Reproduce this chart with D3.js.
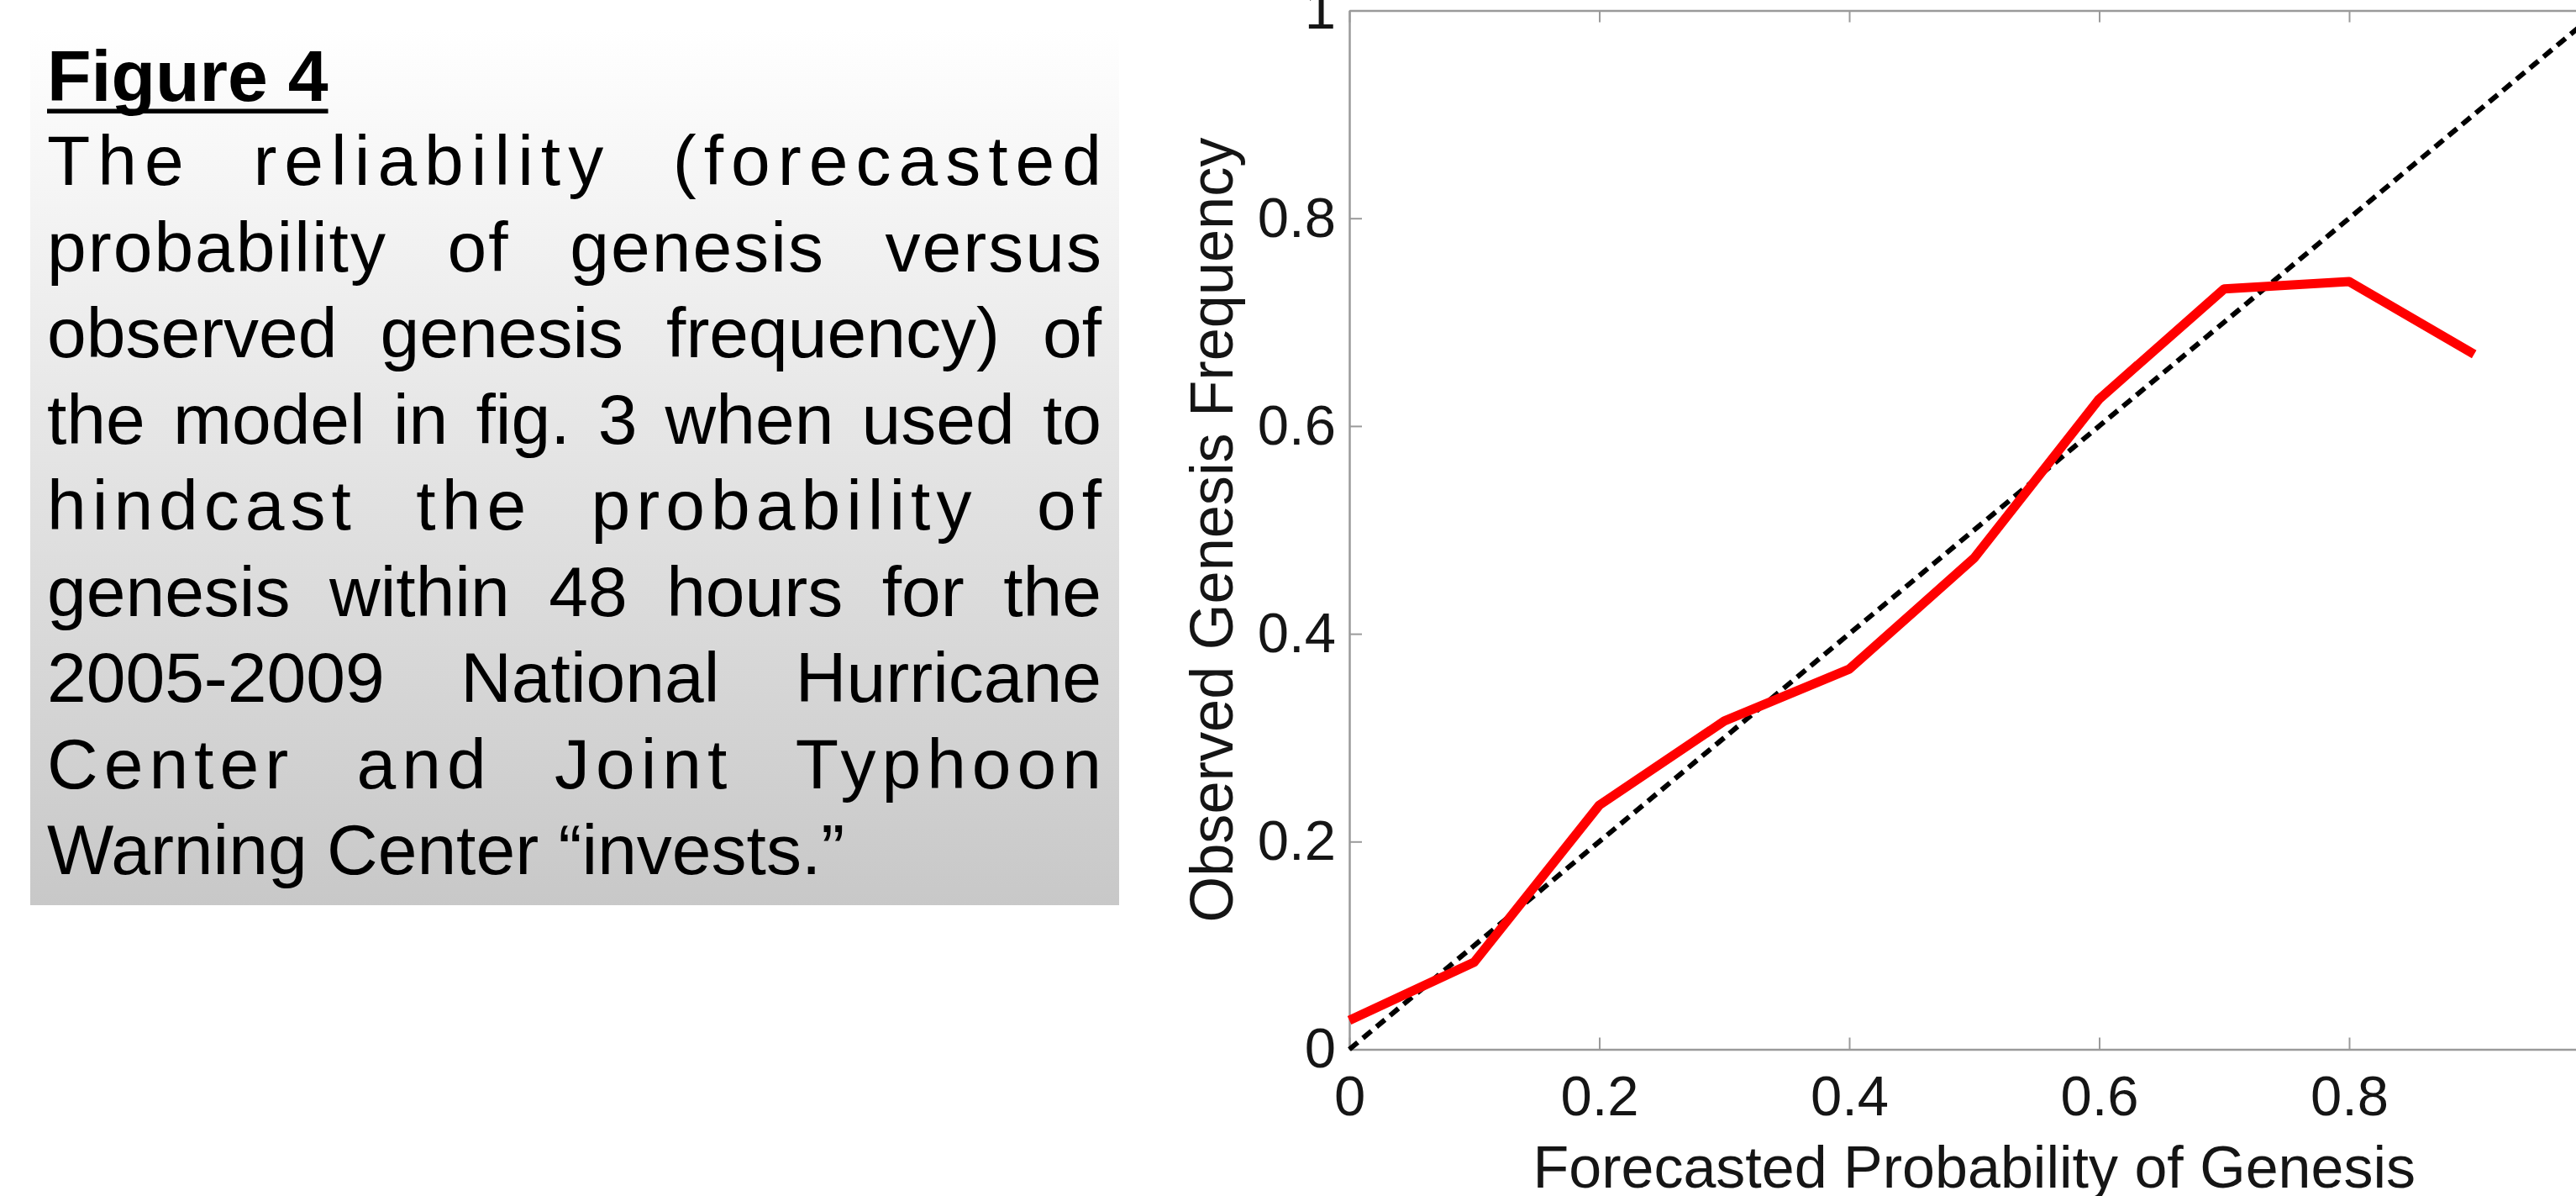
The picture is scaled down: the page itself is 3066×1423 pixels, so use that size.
<!DOCTYPE html>
<html>
<head>
<meta charset="utf-8">
<script src="https://cdn.jsdelivr.net/npm/d3@7"></script>
<style>
  html, body { margin: 0; padding: 0; background: #ffffff; }
  svg { display: block; }
</style>
</head>
<body>
<script>
// ---------------- data ----------------
const forecastProb = [0.0, 0.1, 0.2, 0.3, 0.4, 0.5, 0.6, 0.7, 0.8, 0.9];
const observedFreq = [0.028, 0.084, 0.235, 0.316, 0.366, 0.473, 0.626, 0.732, 0.739, 0.669];
const perfectX = [0, 1];
const perfectY = [0, 1];
const xTicks = [0, 0.2, 0.4, 0.6, 0.8, 1];
const xTickLabels = ["0", "0.2", "0.4", "0.6", "0.8", "1"];
const yTicks = [0, 0.2, 0.4, 0.6, 0.8, 1];
const yTickLabels = ["0", "0.2", "0.4", "0.6", "0.8", "1"];
const xTitle = "Forecasted Probability of Genesis";
const yTitle = "Observed Genesis Frequency";
const captionTitle = "Figure 4";
const captionLines = [
  "The reliability (forecasted",
  "probability of genesis versus",
  "observed genesis frequency) of",
  "the model in fig. 3 when used to",
  "hindcast the probability of",
  "genesis within 48 hours for the",
  "2005-2009 National Hurricane",
  "Center and Joint Typhoon",
  "Warning Center \u201Cinvests.\u201D"
];
// per-line letter spacing (style)
const captionLetterSpacing = [9, 2, 0, 0, 7, 0, 0, 7, 0];

// ---------------- layout ----------------
const W = 3066, H = 1423;
const FONT = "'Liberation Sans', Arial, Helvetica, sans-serif";
const svg = d3.select("body").append("svg").attr("width", W).attr("height", H);

// caption panel
const defs = svg.append("defs");
const grad = defs.append("linearGradient").attr("id", "panelGrad")
  .attr("x1", 0).attr("y1", 0).attr("x2", 0).attr("y2", 1);
grad.append("stop").attr("offset", "0%").attr("stop-color", "#ffffff");
grad.append("stop").attr("offset", "100%").attr("stop-color", "#c8c8c8");

svg.append("rect").attr("x", 36).attr("y", 33).attr("width", 1296).attr("height", 1044)
  .attr("fill", "url(#panelGrad)");

const textLeft = 56, textRight = 1311, bodySize = 84;

const title = svg.append("text").attr("x", textLeft).attr("y", 120)
  .attr("font-family", FONT).attr("font-weight", "bold").attr("font-size", 86)
  .attr("fill", "#000").text(captionTitle);
const tw = title.node().getComputedTextLength();
svg.append("rect").attr("x", textLeft).attr("y", 129.5).attr("width", tw).attr("height", 5.5).attr("fill", "#000");

// measurement helper
const meas = svg.append("text").attr("font-family", FONT).attr("font-size", bodySize)
  .attr("x", -9999).attr("y", -9999);
function measure(s) { meas.text(s); return meas.node().getComputedTextLength(); }
const spaceW = 0.278 * bodySize;

captionLines.forEach((line, i) => {
  const words = line.split(" ");
  const ls = captionLetterSpacing[i];
  const widths = words.map(w => measure(w) + ls * (w.length - 1));
  const sum = d3.sum(widths);
  const last = i === captionLines.length - 1;
  const gap = last ? spaceW + ls : (textRight - textLeft - sum) / (words.length - 1);
  let cx = textLeft;
  const baseline = 220 + i * 102.5;
  words.forEach((w, j) => {
    svg.append("text").attr("x", cx).attr("y", baseline)
      .attr("font-family", FONT).attr("font-size", bodySize)
      .attr("letter-spacing", ls).attr("fill", "#000").text(w);
    cx += widths[j] + gap;
  });
});
meas.remove();

// ---------------- chart ----------------
const x = d3.scaleLinear().domain([0, 1]).range([1606, 3093.5]);
const y = d3.scaleLinear().domain([0, 1]).range([1248.5, 12.5]);

const AXIS_COLOR = "#9a9a9a";
function styleAxis(g, fs) {
  g.attr("font-family", FONT).attr("font-size", fs);
  g.select(".domain").attr("stroke", AXIS_COLOR).attr("stroke-width", 2.5);
  g.selectAll(".tick line").attr("stroke", AXIS_COLOR).attr("stroke-width", 2);
  g.selectAll(".tick text").attr("fill", "#151515");
}

const gx = svg.append("g").attr("transform", `translate(0,${y(0)})`)
  .call(d3.axisBottom(x).tickValues(xTicks).tickFormat((d, i) => xTickLabels[i])
    .tickSizeInner(-14).tickSizeOuter(0).tickPadding(31));
styleAxis(gx, 67);

const gy = svg.append("g").attr("transform", `translate(${x(0)},0)`)
  .call(d3.axisLeft(y).tickValues(yTicks).tickFormat((d, i) => yTickLabels[i])
    .tickSizeInner(-15).tickSizeOuter(0).tickPadding(16));
styleAxis(gy, 67);

const gt = svg.append("g").attr("transform", `translate(0,${y(1)})`)
  .call(d3.axisTop(x).tickValues(xTicks).tickFormat("").tickSizeInner(-14).tickSizeOuter(0));
styleAxis(gt, 10);

const gr = svg.append("g").attr("transform", `translate(${x(1)},0)`)
  .call(d3.axisRight(y).tickValues(yTicks).tickFormat("").tickSizeInner(-15).tickSizeOuter(0));
styleAxis(gr, 10);

// axis titles
svg.append("text").attr("x", x(0.5)).attr("y", 1413)
  .attr("text-anchor", "middle").attr("font-family", FONT).attr("font-size", 70)
  .attr("fill", "#151515").text(xTitle);

svg.append("text")
  .attr("transform", `translate(1467,${(y(0) + y(1)) / 2}) rotate(-90)`)
  .attr("text-anchor", "middle").attr("font-family", FONT).attr("font-size", 72)
  .attr("textLength", 934).attr("lengthAdjust", "spacingAndGlyphs")
  .attr("fill", "#151515").text(yTitle);

// perfect reliability diagonal
const diag = perfectX.map((d, i) => [d, perfectY[i]]);
svg.append("path").datum(diag)
  .attr("d", d3.line().x(d => x(d[0])).y(d => y(d[1])))
  .attr("fill", "none").attr("stroke", "#000").attr("stroke-width", 6)
  .attr("stroke-dasharray", "13,8");

// model reliability curve
const pts = forecastProb.map((d, i) => [d, observedFreq[i]]);
svg.append("path").datum(pts)
  .attr("d", d3.line().x(d => x(d[0])).y(d => y(d[1])))
  .attr("fill", "none").attr("stroke", "#ff0000").attr("stroke-width", 11)
  .attr("stroke-linejoin", "round");
</script>
</body>
</html>
